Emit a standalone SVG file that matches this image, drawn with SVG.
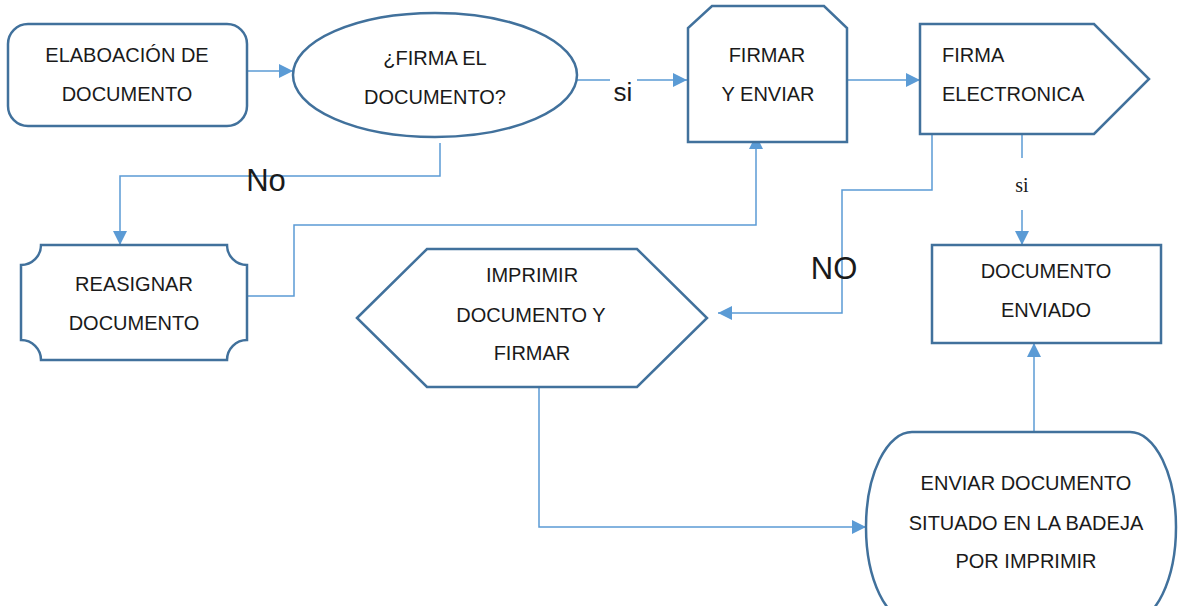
<svg xmlns="http://www.w3.org/2000/svg" width="1178" height="606" viewBox="0 0 1178 606">
<style>
.shape{fill:#fff;stroke:#41719c;stroke-width:2.5}
.conn{fill:none;stroke:#5b9bd5;stroke-width:1.5}
.t{font-family:"Liberation Sans",Arial,sans-serif;font-size:20px;fill:#1a1a1a;text-anchor:middle}
.tl{font-family:"Liberation Sans",Arial,sans-serif;font-size:20px;fill:#1a1a1a}
.lbl{font-family:"Liberation Sans",Arial,sans-serif;fill:#1a1a1a}
</style>
<defs>
<marker id="arr" markerUnits="userSpaceOnUse" markerWidth="14" markerHeight="14" viewBox="0 0 14 14" refX="14" refY="7" orient="auto">
<path d="M0,0 L14,7 L0,14 z" fill="#5b9bd5"/>
</marker>
</defs>
<rect width="1178" height="606" fill="#fff"/>
<g id="connectors">
<path class="conn" d="M247,71 H293" marker-end="url(#arr)"/>
<path class="conn" d="M577,80 H610"/>
<path class="conn" d="M637,80 H687" marker-end="url(#arr)"/>
<path class="conn" d="M842,80 H920" marker-end="url(#arr)"/>
<path class="conn" d="M440,143 V176 H120 V245" marker-end="url(#arr)"/>
<path class="conn" d="M247,296 H294 V225 H756 V135" marker-end="url(#arr)"/>
<path class="conn" d="M932,134 V190 H842 V313 H718" marker-end="url(#arr)"/>
<path class="conn" d="M1022,134 V158"/>
<path class="conn" d="M1022,210 V245" marker-end="url(#arr)"/>
<path class="conn" d="M539,383 V527 H866" marker-end="url(#arr)"/>
<path class="conn" d="M1034,432 V343" marker-end="url(#arr)"/>
</g>
<g id="labels">
<text class="lbl" x="623" y="101" font-size="26" text-anchor="middle">si</text>
<text class="lbl" x="266" y="191" font-size="31" text-anchor="middle">No</text>
<text class="lbl" x="834" y="279" font-size="31" text-anchor="middle">NO</text>
<text x="1022" y="192" font-family="'Liberation Serif',serif" font-size="20" fill="#1a1a1a" text-anchor="middle">si</text>
</g>
<g id="n-elaboracion">
<rect class="shape" x="8" y="24" width="239" height="102" rx="20"/>
<text class="t" x="127" y="62">ELABOACIÓN DE</text>
<text class="t" x="127" y="101">DOCUMENTO</text>
</g>
<g id="n-firma-pregunta">
<ellipse class="shape" cx="435" cy="75" rx="142" ry="62"/>
<text class="t" x="435" y="65">¿FIRMA EL</text>
<text class="t" x="435" y="104">DOCUMENTO?</text>
</g>
<g id="n-firmar-enviar">
<path class="shape" d="M712,6 H824 L847,28 V142 H688 V28 Z"/>
<text class="t" x="767" y="62">FIRMAR</text>
<text class="t" x="768" y="101">Y ENVIAR</text>
</g>
<g id="n-firma-electronica">
<path class="shape" d="M920,24 H1094 L1149,79 L1094,134 H920 Z"/>
<text class="tl" x="942" y="62">FIRMA</text>
<text class="tl" x="942" y="101">ELECTRONICA</text>
</g>
<g id="n-reasignar">
<path class="shape" d="M41,245 H227 A20,20 0 0 0 247,265 V340 A20,20 0 0 0 227,360 H41 A20,20 0 0 0 21,340 V265 A20,20 0 0 0 41,245 Z"/>
<text class="t" x="134" y="291">REASIGNAR</text>
<text class="t" x="134" y="330">DOCUMENTO</text>
</g>
<g id="n-imprimir">
<path class="shape" d="M357,318 L427,249 H637 L707,318 L637,387 H427 Z"/>
<text class="t" x="532" y="282">IMPRIMIR</text>
<text class="t" x="531" y="322">DOCUMENTO Y</text>
<text class="t" x="532" y="360">FIRMAR</text>
</g>
<g id="n-documento-enviado">
<rect class="shape" x="932" y="245" width="229" height="98"/>
<text class="t" x="1046" y="278">DOCUMENTO</text>
<text class="t" x="1046" y="317">ENVIADO</text>
</g>
<g id="n-enviar-documento">
<rect class="shape" x="866" y="432" width="310" height="190" rx="46" ry="95"/>
<text class="t" x="1026" y="490">ENVIAR DOCUMENTO</text>
<text class="t" x="1026" y="530">SITUADO EN LA BADEJA</text>
<text class="t" x="1026" y="568">POR IMPRIMIR</text>
</g>
</svg>
